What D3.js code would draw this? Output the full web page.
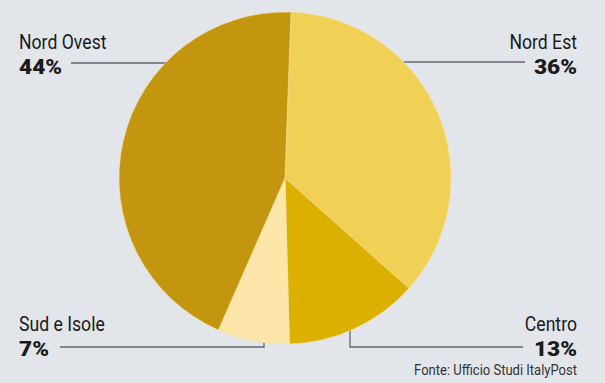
<!DOCTYPE html>
<html>
<head>
<meta charset="utf-8">
<script src="https://cdn.jsdelivr.net/npm/d3@7"></script>
<style>
  html, body { margin: 0; padding: 0; background: #e2e6eb; }
  svg { display: block; }
  .lbl { font-family: Roboto, "DejaVu Sans Condensed", sans-serif; fill: #1a1a1a; }
</style>
</head>
<body>
<svg width="605" height="383"></svg>
<script>
var regions = ['Nord Est', 'Centro', 'Sud e Isole', 'Nord Ovest'];
var shares = [36, 13, 7, 44];
var colors = ['#f0d156', '#dbb000', '#fde6a9', '#c4950e'];
var source = 'Fonte: Ufficio Studi ItalyPost';

var svg = d3.select('svg');
var cx = 285, cy = 178, r = 166;

var pie = d3.pie().sort(null).startAngle(0.036).endAngle(0.036 + 2 * Math.PI);
var arc = d3.arc().innerRadius(0).outerRadius(r);
var arcs = pie(shares);

// leader lines (drawn first, pie covers their inner end)
var leaders = [
    [[404, 62], [525, 62]],
    [[350, 320], [350, 347], [523, 347]],
    [[264, 335], [264, 347], [60, 347]],
    [[170, 63], [71, 63]]
];
var line = d3.line();
svg.append('g')
    .selectAll('path')
    .data(leaders)
    .enter()
    .append('path')
    .attr('d', d => line(d))
    .attr('fill', 'none')
    .attr('stroke', '#63676b')
    .attr('stroke-width', 1.3);

svg.append('g')
    .attr('transform', 'translate(' + cx + ',' + cy + ')')
    .selectAll('path')
    .data(arcs)
    .enter()
    .append('path')
    .attr('d', arc)
    .attr('fill', (d, i) => colors[i])
    .attr('stroke', '#f3e3a0')
    .attr('stroke-width', 0.6);

function addText(x, y, anchor, size, weight, txt, sx, fill) {
    svg.append('text').attr('class', 'lbl')
        .attr('transform', 'translate(' + x + ',' + y + ') scale(' + sx + ',1)')
        .attr('text-anchor', anchor)
        .attr('font-size', size)
        .attr('font-weight', weight)
        .style('fill', fill || '#1a1a1a')
        .text(txt);
}

// labels: [x, nameBaseline, anchor]
var labelPos = [
    [577, 49, 'end'],
    [577, 331, 'end'],
    [19, 331, 'start'],
    [19, 49, 'start']
];
regions.forEach((name, i) => {
    var p = labelPos[i];
    addText(p[0], p[1], p[2], 20.5, 'normal', name, 0.86);
    addText(p[0], p[1] + 24.5, p[2], 21, 900, shares[i] + '%', 1.08);
});

addText(577, 375, 'end', 15.5, 'normal', source, 0.84, '#333');
</script>
</body>
</html>
